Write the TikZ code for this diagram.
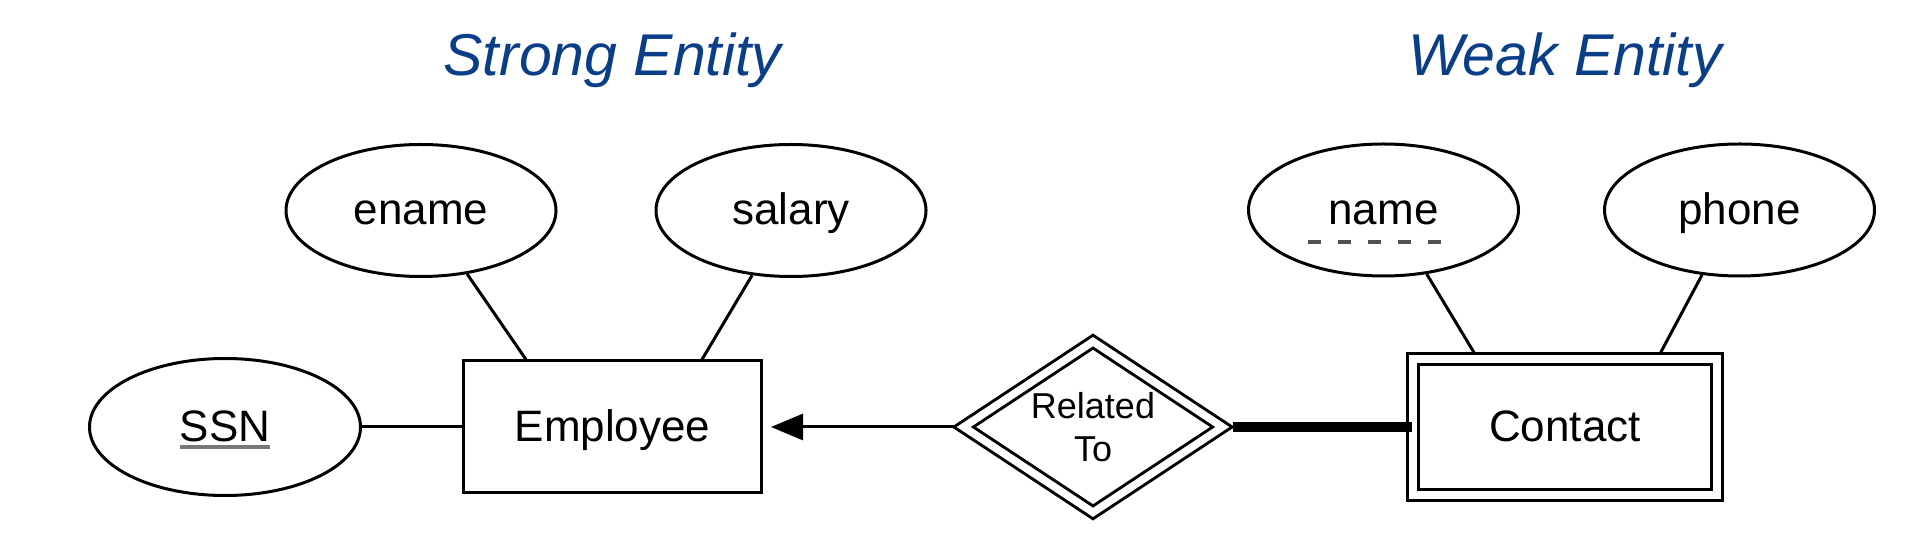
\documentclass[tikz,border=0pt]{standalone}
\usepackage{fontspec}
\setmainfont{Liberation Sans}
\usetikzlibrary{shapes.geometric,arrows.meta}
\definecolor{titleblue}{RGB}{10,62,135}
\definecolor{ulgray}{RGB}{120,120,120}
\definecolor{dashgray}{RGB}{80,80,80}
\newcommand\grayuline[1]{\setbox0\hbox{#1}\rlap{\textcolor{ulgray}{\rule[-4pt]{\wd0}{2pt}}}\box0}
\begin{document}
\begin{tikzpicture}[x=0.5pt,y=-0.5pt,
  body/.style={font=\fontsize{22pt}{26pt}\selectfont, text height=14.5pt, text depth=0pt},
  attr/.style={body, ellipse, draw, line width=1.5pt, inner sep=0pt, minimum width=135pt, minimum height=66pt},
  entity/.style={body, rectangle, draw, line width=1.5pt, inner sep=0pt, minimum width=149pt, minimum height=66pt},
  weakentity/.style={body, rectangle, draw, line width=1.5pt, double, double distance=4pt, inner sep=0pt, minimum width=152pt, minimum height=68pt},
  weakrel/.style={diamond, draw, line width=1.5pt, double, double distance=3.8pt, inner sep=0pt, aspect=1.51, minimum width=130pt, minimum height=86pt, align=center, font=\fontsize{18pt}{21.5pt}\selectfont},
  title/.style={anchor=base, text=titleblue, font=\fontsize{29.5pt}{34pt}\selectfont\itshape},
  conn/.style={line width=1.5pt}]
\useasboundingbox (0,0) rectangle (1932,549);
% titles
\node[title] (t1) at (612.5,76) {Strong Entity};
\node[title] (t2) at (1565,76) {Weak Entity};
% entities and attributes
\node[entity] (employee) at (612.5,427) {Employee};
\node[attr, minimum width=135.5pt, minimum height=68.5pt] (ssn) at (225,427) {\grayuline{SSN}};
\node[attr] (ename) at (421,210.5) {ename};
\node[attr] (salary) at (791,210.5) {salary};
\node[weakentity] (contact) at (1565,427) {Contact};
\node[attr] (name) at (1383.5,210) {name};
\node[attr] (phone) at (1739.5,210) {phone};
\node[weakrel] (rel) at (1093,427) {Related\\To};
% connectors
\draw[conn] (ssn.east) -- (employee.west);
\draw[conn] (ename.-54) -- ([xshift=-43.25pt]employee.north);
\draw[conn] (salary.-121) -- ([xshift=44.75pt]employee.north);
\draw[conn, shorten >=2.5pt] (name.-56) -- ([xshift=-44pt]contact.north);
\draw[conn, shorten >=2.5pt] (phone.-120) -- ([xshift=46.5pt]contact.north);
\draw[conn, -{Triangle[length=16pt,width=13pt]}, shorten <=4pt, shorten >=4pt] (rel.west) -- (employee.east);
\draw[line width=5pt, shorten <=4pt] (rel.east) -- (contact.west);
% partial key underline
\draw[dashgray, line width=2.4pt, dash pattern=on 6.65pt off 8.35pt] ([xshift=-37.75pt,yshift=-16pt]name.center) -- ([xshift=29.75pt,yshift=-16pt]name.center);
\end{tikzpicture}
\end{document}
